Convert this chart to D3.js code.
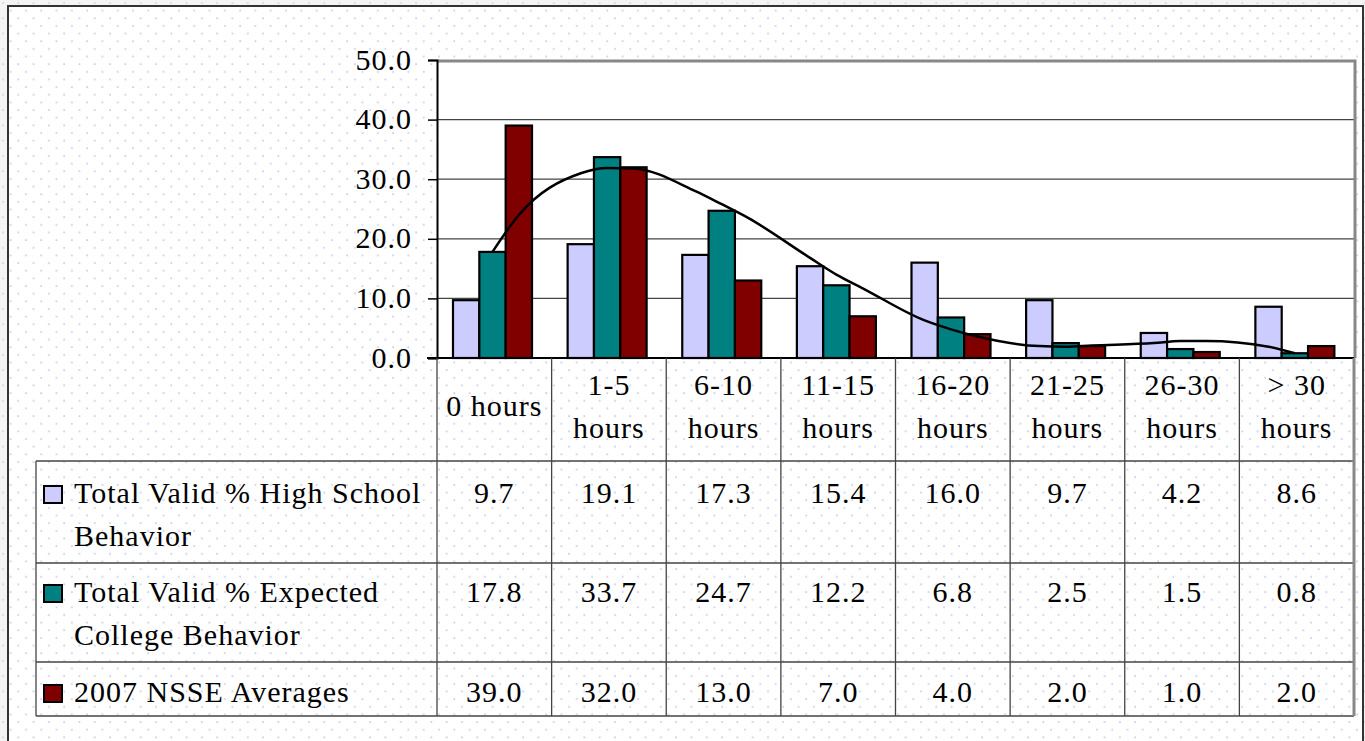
<!DOCTYPE html>
<html>
<head>
<meta charset="utf-8">
<script src="https://cdn.jsdelivr.net/npm/d3@7"></script>
<style>
  body { margin: 0; background: #f4f4f4; }
  text { font-family: "Liberation Serif", "Times New Roman", serif; font-size: 30px; fill: #000; letter-spacing: 1px; }
</style>
</head>
<body>
<div id="chart"></div>
<script>
// data
var categories = ["0 hours", "1-5 hours", "6-10 hours", "11-15 hours", "16-20 hours", "21-25 hours", "26-30 hours", "> 30 hours"];
var categoryLines = [["0 hours"], ["1-5", "hours"], ["6-10", "hours"], ["11-15", "hours"], ["16-20", "hours"], ["21-25", "hours"], ["26-30", "hours"], ["> 30", "hours"]];
var seriesNames = ["Total Valid % High School Behavior", "Total Valid % Expected College Behavior", "2007 NSSE Averages"];
var seriesLines = [["Total Valid % High School", "Behavior"], ["Total Valid % Expected", "College Behavior"], ["2007 NSSE Averages"]];
var highSchool = [9.7, 19.1, 17.3, 15.4, 16.0, 9.7, 4.2, 8.6];
var expectedCollege = [17.8, 33.7, 24.7, 12.2, 6.8, 2.5, 1.5, 0.8];
var nsse = [39.0, 32.0, 13.0, 7.0, 4.0, 2.0, 1.0, 2.0];
// trend line, one value per bar slot (null = no point)
var trend = [
  [null, 17.8, 24.0],
  [31.0, 31.9, 31.8],
  [28.0, 25.8, 23.5],
  [16.8, 14.0, 11.7],
  [6.3, 4.8, 3.6],
  [2.0, 1.9, 2.1],
  [2.5, 2.85, 2.85],
  [1.9, 0.8, null]
];
var yTicks = [0, 10, 20, 30, 40, 50];
var colors = ["#ccccff", "#008080", "#800000"];

var width = 1365, height = 741;
var plot = { left: 437, right: 1354, top: 60, bottom: 358 };

var svg = d3.select("#chart").append("svg")
    .attr("width", width)
    .attr("height", height);

// dotted backgrounds
var defs = svg.append("defs");
var blueDots = defs.append("pattern")
    .attr("id", "blueDots").attr("patternUnits", "userSpaceOnUse")
    .attr("width", 15.3).attr("height", 15.3);
blueDots.append("circle").attr("cx", 3).attr("cy", 3).attr("r", 1).attr("fill", "#cfcff5");
blueDots.append("circle").attr("cx", 10.65).attr("cy", 10.65).attr("r", 1).attr("fill", "#cfcff5");
var grayDots = defs.append("pattern")
    .attr("id", "grayDots").attr("patternUnits", "userSpaceOnUse")
    .attr("width", 15.3).attr("height", 15.3);
grayDots.append("circle").attr("cx", 3).attr("cy", 3).attr("r", 1).attr("fill", "#d8d8d8");
grayDots.append("circle").attr("cx", 10.65).attr("cy", 10.65).attr("r", 1).attr("fill", "#d8d8d8");

svg.append("rect").attr("width", width).attr("height", height).attr("fill", "#f4f4f4");
svg.append("rect").attr("width", width).attr("height", height).attr("fill", "url(#grayDots)");
svg.append("rect").attr("x", 8).attr("y", 6).attr("width", 1355).attr("height", 760).attr("fill", "#fff");
svg.append("rect").attr("x", 8).attr("y", 6).attr("width", 1355).attr("height", 760)
    .attr("fill", "url(#blueDots)").attr("stroke", "#333").attr("stroke-width", 2);

//scales
var x0 = d3.scaleBand().domain(categories).range([plot.left, plot.right]);
var x1 = d3.scaleBand().domain(d3.range(3)).range([16, 95]);
var y = d3.scaleLinear().domain([0, 50]).range([plot.bottom, plot.top]);

svg.append("rect")
    .attr("x", plot.left).attr("y", plot.top)
    .attr("width", plot.right - plot.left).attr("height", plot.bottom - plot.top)
    .attr("fill", "#fff");

//gridlines
svg.append("g").selectAll("line")
    .data(yTicks.filter(function(d) { return d > 0 && d < 50; }))
    .enter().append("line")
    .attr("x1", plot.left).attr("x2", plot.right)
    .attr("y1", function(d) { return y(d); }).attr("y2", function(d) { return y(d); })
    .attr("stroke", "#444").attr("stroke-width", 1.2);

// plot border top and right
svg.append("path")
    .attr("d", "M" + plot.left + "," + (plot.top + 1) + "H" + (plot.right + 1) + "V" + plot.bottom)
    .attr("fill", "none").attr("stroke", "#888").attr("stroke-width", 3);

//bars
var allSeries = [highSchool, expectedCollege, nsse];
var groups = svg.append("g").selectAll("g")
    .data(categories)
    .enter().append("g")
    .attr("transform", function(d) { return "translate(" + x0(d) + ",0)"; });

groups.selectAll("rect")
    .data(function(d, i) { return allSeries.map(function(s, j) { return { s: j, v: s[i] }; }); })
    .enter().append("rect")
    .attr("x", function(d) { return x1(d.s); })
    .attr("width", x1.bandwidth())
    .attr("y", function(d) { return y(d.v); })
    .attr("height", function(d) { return y(0) - y(d.v); })
    .attr("fill", function(d) { return colors[d.s]; })
    .attr("stroke", "#000").attr("stroke-width", 2.2);

//trend line
var trendPoints = [];
trend.forEach(function(row, i) {
    row.forEach(function(v, j) {
        if (v !== null) trendPoints.push({ x: x0(categories[i]) + x1(j) + x1.bandwidth() / 2, v: v });
    });
});
svg.append("path")
    .datum(trendPoints)
    .attr("d", d3.line().x(function(d) { return d.x; }).y(function(d) { return y(d.v); }).curve(d3.curveMonotoneX))
    .attr("fill", "none").attr("stroke", "#000").attr("stroke-width", 2.5);

//y axis
var yAxis = svg.append("g")
    .attr("transform", "translate(" + plot.left + ",0)")
    .call(d3.axisLeft(y).tickValues(yTicks).tickFormat(d3.format(".1f")).tickSize(9).tickPadding(16));
yAxis.select(".domain").attr("stroke", "#000").attr("stroke-width", 2);
yAxis.selectAll(".tick line").attr("stroke", "#000").attr("stroke-width", 1.5);
yAxis.selectAll(".tick text").attr("font-size", 30).attr("font-family", "Liberation Serif, serif").attr("dy", "0.3em");

// x axis line
svg.append("line")
    .attr("x1", plot.left - 10).attr("x2", plot.right)
    .attr("y1", plot.bottom).attr("y2", plot.bottom)
    .attr("stroke", "#000").attr("stroke-width", 2);

//data table
var table = { left: 36, top: 461, rows: [461, 563, 662, 716] };
var tg = svg.append("g").attr("stroke", "#444").attr("stroke-width", 1.3);
table.rows.forEach(function(r) {
    tg.append("line").attr("x1", table.left).attr("x2", plot.right).attr("y1", r).attr("y2", r);
});
tg.append("line").attr("x1", table.left).attr("x2", table.left).attr("y1", table.top).attr("y2", 716);
categories.forEach(function(c) {
    tg.append("line").attr("x1", x0(c)).attr("x2", x0(c)).attr("y1", plot.bottom).attr("y2", 716);
});
tg.append("line").attr("x1", plot.right).attr("x2", plot.right).attr("y1", plot.bottom).attr("y2", 716)
    .attr("stroke", "#888").attr("stroke-width", 3);

// category labels
svg.append("g").selectAll("text")
    .data(categoryLines)
    .enter().append("text")
    .attr("text-anchor", "middle")
    .attr("x", function(d, i) { return x0(categories[i]) + x0.bandwidth() / 2; })
    .attr("y", function(d) { return d.length === 1 ? 416 : 395; })
    .each(function(d) {
        var t = d3.select(this);
        d.forEach(function(line, k) {
            t.append("tspan").attr("x", t.attr("x")).attr("dy", k === 0 ? 0 : 43).text(line);
        });
    });

// legend cells and values
var rowBaselines = [503, 602, 702];
seriesLines.forEach(function(lines, j) {
    svg.append("rect")
        .attr("x", 44).attr("y", rowBaselines[j] - 17)
        .attr("width", 18).attr("height", 17)
        .attr("fill", colors[j]).attr("stroke", "#000").attr("stroke-width", 2);
    var t = svg.append("text").attr("x", 74).attr("y", rowBaselines[j]);
    lines.forEach(function(line, k) {
        t.append("tspan").attr("x", 74).attr("dy", k === 0 ? 0 : 43).text(line);
    });
    svg.append("g").selectAll("text")
        .data(allSeries[j])
        .enter().append("text")
        .attr("text-anchor", "middle")
        .attr("x", function(d, i) { return x0(categories[i]) + x0.bandwidth() / 2; })
        .attr("y", rowBaselines[j])
        .text(function(d) { return d3.format(".1f")(d); });
});
</script>
</body>
</html>
